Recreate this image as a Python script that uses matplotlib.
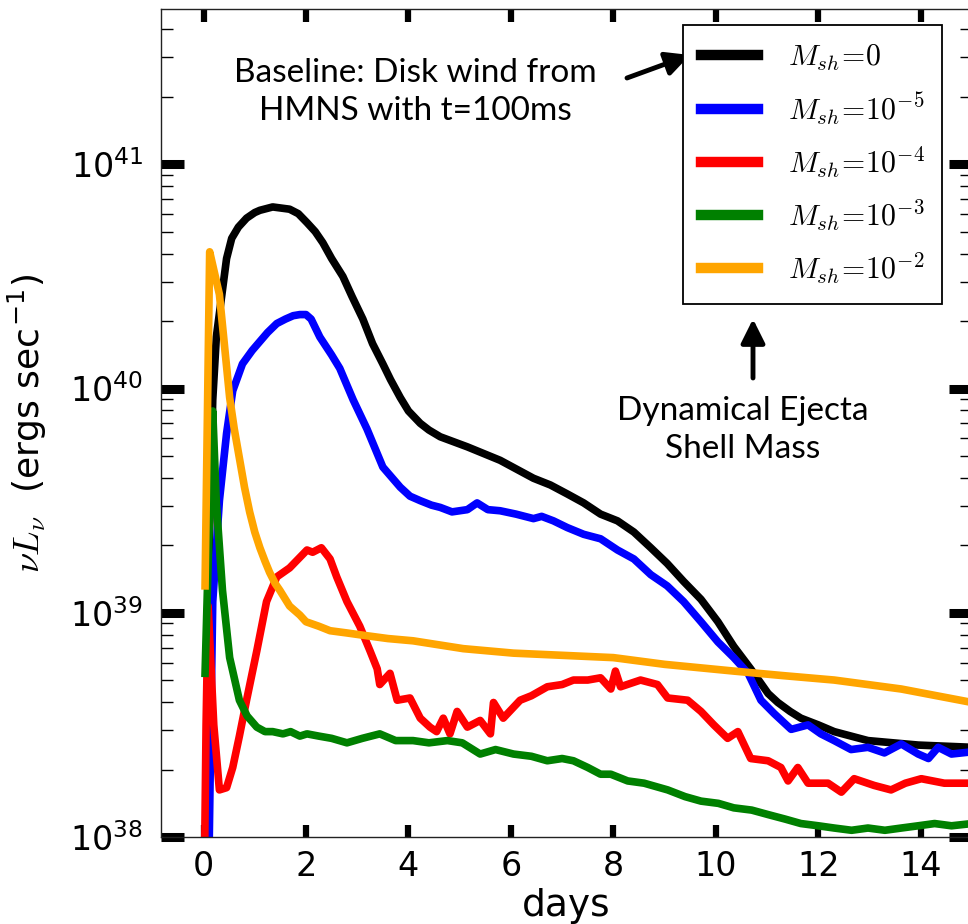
import numpy as np
import matplotlib
matplotlib.use('Agg')
import matplotlib.pyplot as plt
from matplotlib.ticker import LogLocator, NullFormatter, MultipleLocator

plt.rcParams['font.family'] = 'DejaVu Sans'
plt.rcParams['mathtext.fontset'] = 'cm'

# light curves: days vs log10(nu L_nu)
t_black = [0.08, 0.18, 0.25, 0.37, 0.45, 0.55, 0.68, 0.84, 1.0, 1.1, 1.35, 1.68, 1.85, 2.02,
           2.18, 2.33, 2.50, 2.72, 2.90, 3.11, 3.30, 3.50, 3.65, 3.84, 4.0, 4.23, 4.40, 4.62,
           5.15, 5.79, 6.44, 6.77, 7.10, 7.42, 7.75, 8.08, 8.40, 8.73, 9.05, 9.37, 9.71, 10.04,
           10.35, 10.68, 11.02, 11.21, 11.45, 11.66, 12.0, 12.31, 12.97, 13.95, 15.0]
logL_black = [39.0, 39.95, 40.23, 40.44, 40.58, 40.67, 40.72, 40.76, 40.785, 40.795, 40.81,
              40.80, 40.78, 40.74, 40.70, 40.65, 40.58, 40.50, 40.41, 40.31, 40.20, 40.11,
              40.04, 39.96, 39.90, 39.845, 39.815, 39.785, 39.74, 39.68, 39.60, 39.57, 39.53,
              39.49, 39.44, 39.41, 39.36, 39.29, 39.22, 39.14, 39.06, 38.96, 38.85, 38.75,
              38.64, 38.60, 38.56, 38.53, 38.50, 38.47, 38.43, 38.41, 38.40]

t_blue = [0.10, 0.15, 0.18, 0.31, 0.45, 0.57, 0.76, 0.95, 1.10, 1.25, 1.43, 1.60, 1.75, 1.88,
          2.0, 2.10, 2.27, 2.50, 2.66, 2.92, 3.19, 3.50, 3.84, 4.03, 4.23, 4.45, 4.62, 4.85,
          5.15, 5.34, 5.55, 5.79, 6.10, 6.44, 6.60, 6.83, 7.10, 7.42, 7.75, 8.08, 8.40, 8.73,
          9.05, 9.37, 9.71, 10.04, 10.35, 10.63, 10.88, 11.14, 11.47, 11.80, 12.05, 12.31,
          12.64, 12.97, 13.29, 13.62, 13.95, 14.15, 14.34, 14.60, 15.0]
logL_blue = [37.8, 38.6, 39.05, 39.50, 39.80, 39.99, 40.11, 40.17, 40.21, 40.25, 40.29, 40.31,
             40.325, 40.33, 40.33, 40.31, 40.23, 40.15, 40.09, 39.95, 39.82, 39.65, 39.56,
             39.52, 39.50, 39.48, 39.47, 39.45, 39.46, 39.49, 39.46, 39.455, 39.44, 39.42,
             39.43, 39.41, 39.38, 39.35, 39.33, 39.28, 39.24, 39.17, 39.12, 39.05, 38.96,
             38.87, 38.80, 38.73, 38.61, 38.55, 38.48, 38.50, 38.46, 38.43, 38.39, 38.40,
             38.375, 38.415, 38.37, 38.35, 38.40, 38.37, 38.38]

t_red = [0.00, 0.05, 0.09, 0.20, 0.31, 0.45, 0.57, 0.70, 0.84, 1.04, 1.23, 1.43, 1.68, 1.85,
         2.02, 2.13, 2.30, 2.47, 2.60, 2.80, 3.05, 3.25, 3.39, 3.44, 3.64, 3.78, 4.03, 4.23,
         4.42, 4.55, 4.68, 4.81, 4.95, 5.15, 5.40, 5.60, 5.66, 5.85, 6.18, 6.40, 6.71, 7.00,
         7.22, 7.50, 7.75, 7.95, 8.04, 8.14, 8.53, 8.86, 9.06, 9.45, 9.71, 9.96, 10.23, 10.43,
         10.68, 11.02, 11.27, 11.41, 11.60, 11.80, 12.19, 12.45, 12.70, 13.09, 13.42, 13.70,
         14.01, 14.46, 15.0]
logL_red = [37.5, 38.5, 39.03, 38.5, 38.21, 38.22, 38.31, 38.45, 38.61, 38.83, 39.05, 39.16,
            39.20, 39.24, 39.28, 39.27, 39.29, 39.24, 39.16, 39.05, 38.94, 38.83, 38.75, 38.68,
            38.73, 38.61, 38.62, 38.53, 38.49, 38.47, 38.53, 38.46, 38.56, 38.49, 38.52, 38.46,
            38.60, 38.53, 38.61, 38.63, 38.67, 38.68, 38.70, 38.70, 38.71, 38.66, 38.74, 38.67,
            38.70, 38.68, 38.62, 38.61, 38.56, 38.50, 38.44, 38.47, 38.35, 38.34, 38.31, 38.25,
            38.31, 38.24, 38.24, 38.20, 38.26, 38.23, 38.21, 38.24, 38.26, 38.24, 38.24]

t_green = [0.03, 0.10, 0.18, 0.25, 0.37, 0.51, 0.70, 0.85, 1.04, 1.20, 1.35, 1.55, 1.70, 1.88,
           2.02, 2.25, 2.50, 2.80, 3.10, 3.44, 3.75, 4.09, 4.40, 4.76, 5.05, 5.40, 5.70, 6.05,
           6.40, 6.71, 7.00, 7.22, 7.50, 7.75, 7.95, 8.28, 8.60, 9.06, 9.40, 9.71, 10.05, 10.35,
           10.70, 11.02, 11.35, 11.66, 12.00, 12.31, 12.65, 12.97, 13.30, 13.62, 13.95, 14.27,
           14.60, 15.0]
logL_green = [38.73, 39.3, 39.90, 39.49, 39.10, 38.80, 38.61, 38.54, 38.49, 38.47, 38.47, 38.46,
              38.47, 38.45, 38.46, 38.45, 38.44, 38.42, 38.44, 38.46, 38.43, 38.43, 38.42, 38.43,
              38.42, 38.37, 38.39, 38.37, 38.36, 38.34, 38.35, 38.34, 38.31, 38.28, 38.28, 38.25,
              38.24, 38.21, 38.18, 38.16, 38.15, 38.13, 38.12, 38.10, 38.08, 38.06, 38.05, 38.04,
              38.03, 38.04, 38.03, 38.04, 38.05, 38.06, 38.05, 38.06]

t_orange = [0.03, 0.12, 0.20, 0.31, 0.41, 0.51, 0.60, 0.70, 0.80, 0.90, 1.0, 1.10, 1.20, 1.29,
            1.40, 1.49, 1.68, 1.88, 2.0, 2.25, 2.47, 2.80, 3.11, 3.60, 4.09, 5.07, 6.05, 7.03,
            8.0, 9.0, 10.35, 11.3, 12.31, 13.62, 15.0]
logL_orange = [39.12, 40.61, 40.53, 40.42, 40.19, 39.96, 39.82, 39.69, 39.56, 39.45, 39.36,
               39.29, 39.23, 39.18, 39.13, 39.10, 39.03, 38.99, 38.96, 38.94, 38.92, 38.91,
               38.90, 38.885, 38.875, 38.84, 38.82, 38.81, 38.80, 38.77, 38.74, 38.72, 38.70,
               38.66, 38.60]

series = [
    (t_black, logL_black, 'black', r'$M_{sh}\!=\!0$'),
    (t_blue, logL_blue, 'blue', r'$M_{sh}\!=\!10^{-5}$'),
    (t_red, logL_red, 'red', r'$M_{sh}\!=\!10^{-4}$'),
    (t_green, logL_green, 'green', r'$M_{sh}\!=\!10^{-3}$'),
    (t_orange, logL_orange, 'orange', r'$M_{sh}\!=\!10^{-2}$'),
]

W, H = 968, 924
fig = plt.figure(figsize=(W / 100, H / 100), dpi=100)
ax = fig.add_axes([161 / W, (H - 837) / H, (972 - 161) / W, (837 - 9) / H])

for t, logL, c, lab in series:
    ax.plot(t, 10 ** np.array(logL), color=c, lw=5.5, label=lab)

ax.set_yscale('log')
ax.set_xlim(-0.83, 15)
ax.set_ylim(1e38, 4.93e41)
ax.xaxis.set_major_locator(MultipleLocator(2))
ax.yaxis.set_major_locator(LogLocator(base=10))
ax.yaxis.set_minor_locator(LogLocator(base=10, subs=np.arange(2, 10)))
ax.yaxis.set_minor_formatter(NullFormatter())

ax.tick_params(axis='both', which='both', direction='in', top=True, right=True)
ax.tick_params(axis='x', which='major', length=9, width=4.5, labelsize=24, pad=9)
ax.tick_params(axis='y', which='major', length=16.5, width=6.5, labelsize=24, pad=13)
ax.tick_params(axis='y', which='minor', length=8.5, width=1.0)
for sp in ax.spines.values():
    sp.set_linewidth(1.0)
    sp.set_color('#222222')

ax.set_xlabel('days', fontsize=27, labelpad=4)
ax.set_ylabel(r'$\nu L_\nu$  (ergs sec$^{\mathdefault{-1}}$)', fontsize=26, labelpad=15)

leg = ax.legend(loc='upper left', bbox_to_anchor=(683 / W, 1 - 25 / H),
                bbox_transform=fig.transFigure, fontsize=21.5, handlelength=1.9,
                handletextpad=1.0, borderpad=0.6, labelspacing=0.58,
                borderaxespad=0, fancybox=False, framealpha=1, edgecolor='black')
leg.get_frame().set_linewidth(1.3)
for ln in leg.get_lines():
    ln.set_linewidth(7.5)


def fp(x, y):
    # top-left pixel coordinates -> figure fraction
    return (x / W, 1 - y / H)


fig.text(*fp(415, 92), 'Baseline: Disk wind from\nHMNS with t=100ms', family='Lato',
         fontsize=24, ha='center', va='center', linespacing=1.3)
fig.text(*fp(743, 430), 'Dynamical Ejecta\nShell Mass', family='Lato',
         fontsize=24, ha='center', va='center', linespacing=1.3)

arrow = dict(arrowstyle='-|>,head_length=0.8,head_width=0.4', lw=3.5, color='black',
             shrinkA=0, shrinkB=0, mutation_scale=18)
ax.annotate('', xy=fp(690, 55), xytext=fp(627, 78), xycoords='figure fraction',
            textcoords='figure fraction', arrowprops=arrow)
ax.annotate('', xy=fp(753, 319), xytext=fp(753, 378), xycoords='figure fraction',
            textcoords='figure fraction', arrowprops=arrow)

fig.savefig('out.png', dpi=100)
